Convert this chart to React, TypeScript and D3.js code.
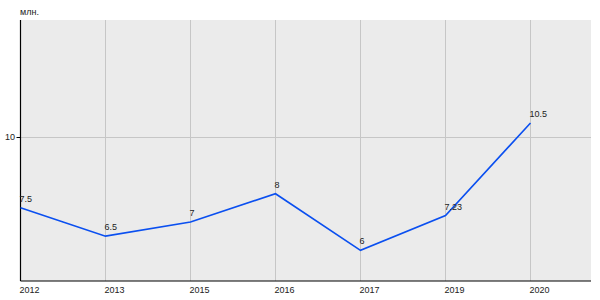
import React from "react";
import * as d3 from "d3";

const categories = ["2012", "2013", "2015", "2016", "2017", "2019", "2020"];
const values = [7.5, 6.5, 7, 8, 6, 7.23, 10.5];
const yTicks = [10];
const unitLabel = "млн.";

const W = 600;
const H = 300;
const plot = { left: 20.5, right: 591, top: 20, bottom: 281 };

export default function App() {
  const x = d3
    .scalePoint<string>()
    .domain(categories)
    .range([plot.left, 530.5]);
  const y = d3.scaleLinear().domain([4.915, 14.14]).range([plot.bottom, plot.top]);

  const line = d3
    .line<number>()
    .x((_, i) => x(categories[i]) as number)
    .y((d) => y(d));

  const font = "'Liberation Sans', Arial, sans-serif";
  const fs = 9;

  return (
    <svg
      width={W}
      height={H}
      style={{ position: "absolute", left: 0, top: 0, background: "#fff" }}
      fontFamily={font}
    >
      <rect
        x={plot.left}
        y={plot.top}
        width={plot.right - plot.left}
        height={plot.bottom - plot.top}
        fill="#ebebeb"
      />
      {categories.map((c) => (
        <line
          key={"gx" + c}
          x1={x(c)}
          x2={x(c)}
          y1={plot.top}
          y2={plot.bottom}
          stroke="#c6c6c6"
          strokeWidth={1}
        />
      ))}
      {yTicks.map((t) => (
        <g key={"gy" + t}>
          <line
            x1={plot.left}
            x2={plot.right}
            y1={Math.round(y(t)) + 0.5}
            y2={Math.round(y(t)) + 0.5}
            stroke="#c6c6c6"
            strokeWidth={1}
          />
          <line
            x1={plot.left - 4}
            x2={plot.left}
            y1={Math.round(y(t)) + 0.5}
            y2={Math.round(y(t)) + 0.5}
            stroke="#000"
            strokeWidth={1}
          />
          <text x={5} y={y(t) + 3} fontSize={fs} fill="#222">
            {t}
          </text>
        </g>
      ))}
      <line x1={plot.left} x2={plot.left} y1={plot.top} y2={plot.bottom} stroke="#000" strokeWidth={1.2} />
      <line x1={plot.left} x2={plot.right} y1={plot.bottom} y2={plot.bottom} stroke="#000" strokeWidth={1.2} />
      <text x={20} y={15} fontSize={fs} fill="#222">
        {unitLabel}
      </text>
      {categories.map((c) => (
        <text key={"xl" + c} x={(x(c) as number) - 1} y={293} fontSize={fs} fill="#222">
          {c}
        </text>
      ))}
      <path d={line(values) || ""} fill="none" stroke="#0a4ff0" strokeWidth={1.6} />
      {values.map((v, i) => (
        <text
          key={"dl" + i}
          x={(x(categories[i]) as number) - 1}
          y={y(v) - 6}
          fontSize={fs}
          fill="#222"
        >
          {String(v)}
        </text>
      ))}
    </svg>
  );
}
